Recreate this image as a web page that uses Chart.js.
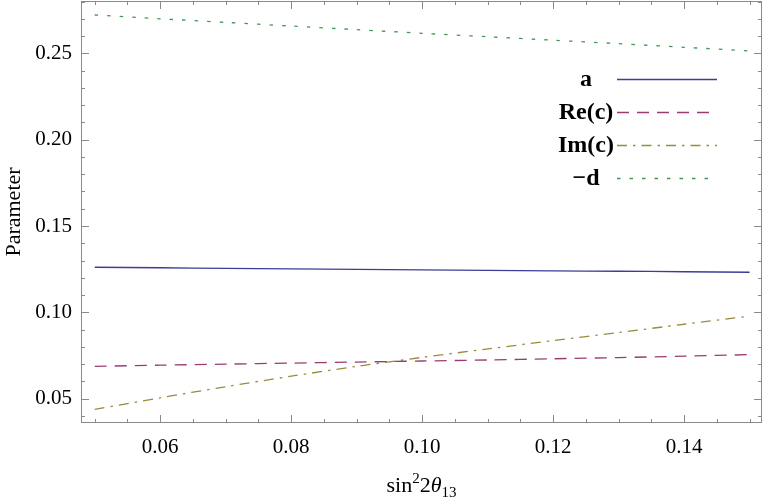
<!DOCTYPE html>
<html>
<head>
<meta charset="utf-8">
<script src="https://cdn.jsdelivr.net/npm/chart.js@4/dist/chart.umd.min.js"></script>
<style>
  html, body { margin: 0; padding: 0; background: #fff; }
  #wrap { width: 763px; height: 499px; }
</style>
</head>
<body>
<div id="wrap"><canvas id="myChart"></canvas></div>
<script>
// values
const sin2theta = [0.05, 0.06, 0.07, 0.08, 0.09, 0.10, 0.11, 0.12, 0.13, 0.14, 0.15];
const aVals   = [0.1261, 0.1258, 0.1255, 0.1252, 0.1249, 0.1246, 0.1243, 0.1240, 0.1238, 0.1235, 0.1232];
const reCVals = [0.0687, 0.0694, 0.0700, 0.0706, 0.0712, 0.0718, 0.0724, 0.0731, 0.0738, 0.0746, 0.0755];
const imCVals = [0.0438, 0.0505, 0.0569, 0.0630, 0.0687, 0.0739, 0.0788, 0.0836, 0.0883, 0.0931, 0.0978];
const minusD  = [0.2722, 0.2700, 0.2679, 0.2658, 0.2637, 0.2616, 0.2596, 0.2576, 0.2556, 0.2535, 0.2514];
const seriesNames = ["a", "Re(c)", "Im(c)", "\u2212d"];
const xTicks = [0.06, 0.08, 0.10, 0.12, 0.14];
const yTicks = [0.05, 0.10, 0.15, 0.20, 0.25];

const serif = "'Liberation Serif', 'DejaVu Serif', serif";
const frameColor = "#8a8a8a";

function pts(vals) {
  return sin2theta.map((x, i) => ({ x: x, y: vals[i] }));
}

// frame with inward ticks on all four sides
const framePlugin = {
  id: "frame",
  afterDatasetsDraw(chart) {
    const ctx = chart.ctx;
    const a = chart.chartArea;
    const xs = chart.scales.x, ys = chart.scales.y;
    ctx.save();
    ctx.strokeStyle = frameColor;
    ctx.lineWidth = 1;
    ctx.strokeRect(a.left + 0.5, a.top + 0.5, a.right - a.left - 1, a.bottom - a.top - 1);
    ctx.beginPath();
    for (let v = 0.05; v <= 0.1501; v += 0.005) {
      const px = Math.round(xs.getPixelForValue(v)) + 0.5;
      const major = Math.abs(v * 50 - Math.round(v * 50)) < 1e-6;
      const len = major ? 8 : 4;
      ctx.moveTo(px, a.bottom); ctx.lineTo(px, a.bottom - len);
      ctx.moveTo(px, a.top); ctx.lineTo(px, a.top + len);
    }
    for (let v = 0.04; v <= 0.2801; v += 0.01) {
      const py = Math.round(ys.getPixelForValue(v)) + 0.5;
      const major = Math.abs(v * 20 - Math.round(v * 20)) < 1e-6;
      const len = major ? 8 : 4;
      ctx.moveTo(a.left, py); ctx.lineTo(a.left + len, py);
      ctx.moveTo(a.right, py); ctx.lineTo(a.right - len, py);
    }
    ctx.stroke();

    // x axis title: sin^2 2θ_13
    ctx.fillStyle = "#000";
    ctx.textBaseline = "alphabetic";
    const parts = [
      { t: "sin", f: "22px " + serif, dy: 0 },
      { t: "2", f: "15px " + serif, dy: -9 },
      { t: "2", f: "22px " + serif, dy: 0 },
      { t: "\u03b8", f: "italic 22px " + serif, dy: 0 },
      { t: "13", f: "15px " + serif, dy: 5 }
    ];
    let w = 0;
    parts.forEach(p => { ctx.font = p.f; p.w = ctx.measureText(p.t).width; w += p.w; });
    let x = (a.left + a.right) / 2 - w / 2;
    const base = 492;
    parts.forEach(p => {
      ctx.font = p.f;
      ctx.textAlign = "left";
      ctx.fillText(p.t, x, base + p.dy);
      x += p.w;
    });

    // legend
    const rows = [79, 112, 145, 178];
    chart.data.datasets.forEach((ds, i) => {
      const y = rows[i];
      ctx.font = "bold 24px " + serif;
      ctx.textAlign = "center";
      ctx.textBaseline = "middle";
      ctx.fillStyle = "#000";
      ctx.fillText(ds.label, 586, y + 1);
      ctx.strokeStyle = ds.borderColor;
      ctx.lineWidth = ds.borderWidth;
      ctx.setLineDash(ds.borderDash || []);
      ctx.beginPath();
      ctx.moveTo(617, y + 0.5);
      ctx.lineTo(717, y + 0.5);
      ctx.stroke();
      ctx.setLineDash([]);
    });
    ctx.restore();
  }
};

const myChart = new Chart(document.getElementById("myChart").getContext("2d"), {
  type: "line",
  data: {
    datasets: [
      {
        label: seriesNames[0],
        data: pts(aVals),
        borderColor: "#3d3d99",
        borderWidth: 1.3,
        borderDash: [],
      },
      {
        label: seriesNames[1],
        data: pts(reCVals),
        borderColor: "#993d71",
        borderWidth: 1.3,
        borderDash: [12, 8],
      },
      {
        label: seriesNames[2],
        data: pts(imCVals),
        borderColor: "#998b3d",
        borderWidth: 1.3,
        borderDash: [10, 6, 2.5, 6],
      },
      {
        label: seriesNames[3],
        data: pts(minusD),
        borderColor: "#3d9954",
        borderWidth: 1.3,
        borderDash: [3.5, 9],
      }
    ]
  },
  options: {
    responsive: true,
    maintainAspectRatio: false,
    animation: false,
    layout: { padding: { top: 1, right: 1, left: 0, bottom: 0 } },
    elements: { point: { radius: 0 }, line: { tension: 0.3 } },
    plugins: {
      legend: { display: false },
      tooltip: { enabled: false }
    },
    scales: {
      x: {
        type: "linear",
        min: 0.0479,
        max: 0.1519,
        afterBuildTicks: s => { s.ticks = xTicks.map(v => ({ value: v })); },
        afterFit: s => { s.height = 76; s.paddingLeft = 0; s.paddingRight = 0; },
        grid: { display: false, drawTicks: false },
        border: { display: false },
        ticks: {
          color: "#000",
          font: { family: serif, size: 21 },
          padding: 12,
          maxRotation: 0,
          callback: v => v.toFixed(2)
        }
      },
      y: {
        type: "linear",
        min: 0.0359,
        max: 0.2803,
        afterBuildTicks: s => { s.ticks = yTicks.map(v => ({ value: v })); },
        afterFit: s => { s.width = 81; s.paddingTop = 0; s.paddingBottom = 0; },
        grid: { display: false, drawTicks: false },
        border: { display: false },
        ticks: {
          color: "#000",
          font: { family: serif, size: 21 },
          padding: 9,
          callback: v => v.toFixed(2)
        },
        title: {
          display: true,
          text: "Parameter",
          color: "#000",
          font: { family: serif, size: 22 },
          padding: { top: 1, bottom: 0 }
        }
      }
    }
  },
  plugins: [framePlugin]
});
</script>
</body>
</html>
